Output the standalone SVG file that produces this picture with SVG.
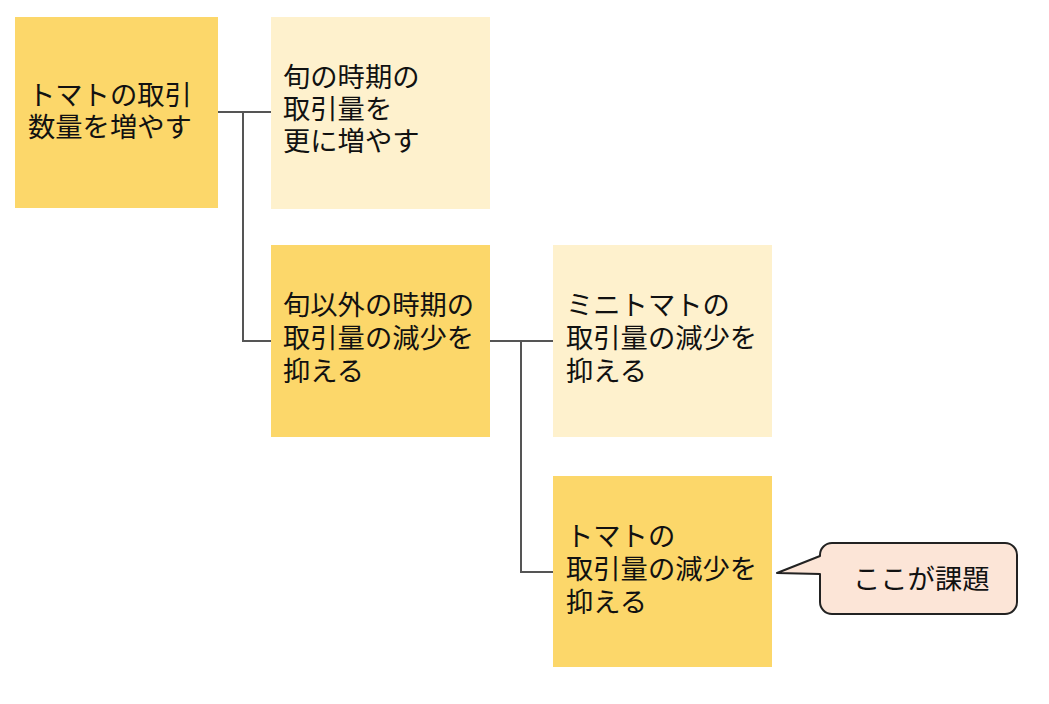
<svg xmlns="http://www.w3.org/2000/svg" width="1049" height="704" viewBox="0 0 1049 704">
<style>
.dark{fill:#FCD76A}
.light{fill:#FEF1CD}
.t{font-family:"Noto Sans CJK JP","Noto Sans",sans-serif;font-size:27.3px;fill:#111}
.c{fill:none;stroke:#555;stroke-width:2}
</style>
<rect width="1049" height="704" fill="#fff"/>
<g id="connectors">
<polyline class="c" points="218,112 271,112"/>
<polyline class="c" points="243,112 243,341 271,341"/>
<polyline class="c" points="490,341 553,341"/>
<polyline class="c" points="521,341 521,572 553,572"/>
</g>
<g id="n1"><rect class="dark" x="15" y="17" width="203" height="191"/>
<text class="t" x="28"><tspan x="28" y="105">トマトの取引</tspan><tspan x="28" y="137">数量を増やす</tspan></text></g>
<g id="n2"><rect class="light" x="271" y="17" width="219" height="192"/>
<text class="t"><tspan x="283" y="87">旬の時期の</tspan><tspan x="283" y="119">取引量を</tspan><tspan x="283" y="151">更に増やす</tspan></text></g>
<g id="n3"><rect class="dark" x="271" y="245" width="219" height="192"/>
<text class="t"><tspan x="283" y="315">旬以外の時期の</tspan><tspan x="283" y="348">取引量の減少を</tspan><tspan x="283" y="381">抑える</tspan></text></g>
<g id="n4"><rect class="light" x="553" y="245" width="219" height="192"/>
<text class="t"><tspan x="566" y="315">ミニトマトの</tspan><tspan x="566" y="348">取引量の減少を</tspan><tspan x="566" y="381">抑える</tspan></text></g>
<g id="n5"><rect class="dark" x="553" y="476" width="219" height="191"/>
<text class="t"><tspan x="566" y="546">トマトの</tspan><tspan x="566" y="579">取引量の減少を</tspan><tspan x="566" y="612">抑える</tspan></text></g>
<g id="callout"><path d="M832,543 H1005 A12,12 0 0 1 1017,555 V602 A12,12 0 0 1 1005,614 H832 A12,12 0 0 1 820,602 V574 L777,573 L820,556 V555 A12,12 0 0 1 832,543 Z" fill="#FCE5D7" stroke="#222" stroke-width="2" stroke-linejoin="round"/>
<text class="t" x="853" y="589">ここが課題</text></g>
</svg>
